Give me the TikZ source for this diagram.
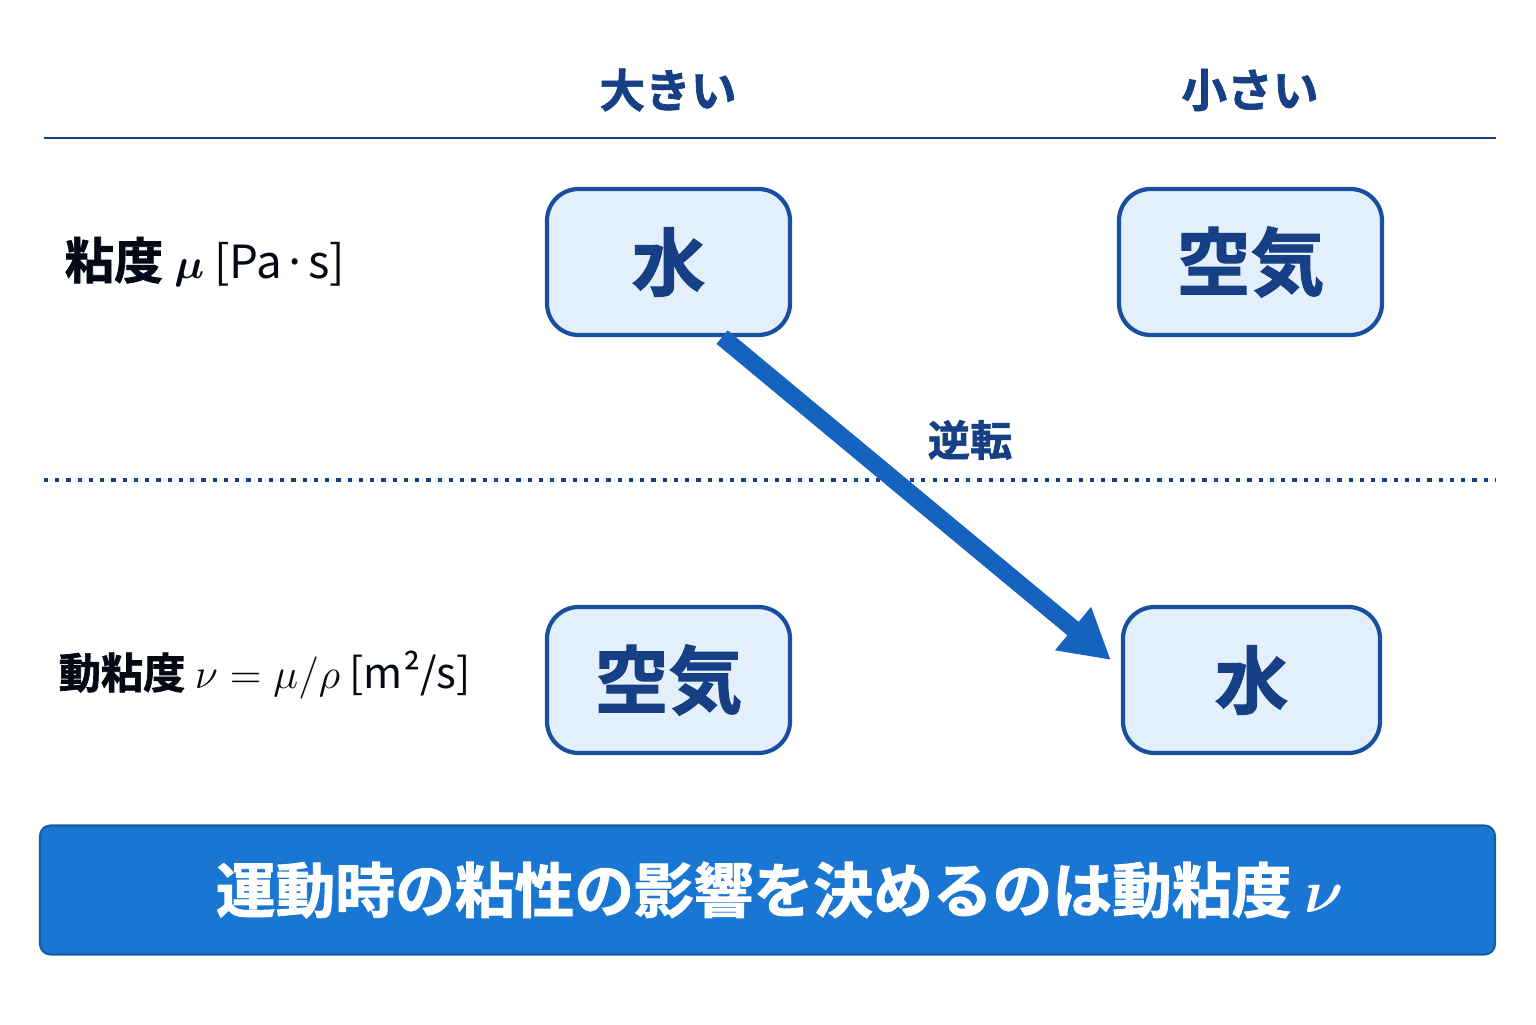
\documentclass[tikz,border=0pt]{standalone}
\usepackage{amsmath}
\usepackage{bm}
\usepackage{fontspec}
\setmainfont{Noto Sans CJK JP}
\newfontfamily\jpbold[FakeBold=1.5]{Noto Sans CJK JP Bold}
\usetikzlibrary{arrows.meta,positioning}
\definecolor{navy}{HTML}{173F85}
\definecolor{boxfill}{HTML}{E3F0FB}
\definecolor{boxline}{HTML}{1A4FA0}
\definecolor{arrowblue}{HTML}{1663BF}
\definecolor{banner}{HTML}{1976D2}
\begin{document}
\begin{tikzpicture}[
    semithick,
    head/.style = {text=navy, font=\jpbold\fontsize{13}{15}\selectfont},
    rowlabel/.style = {text=black!85!navy, anchor=west, font=\jpbold\fontsize{14}{16}\selectfont},
    fluid/.style = {draw=boxline, line width=1.2pt, fill=boxfill, rounded corners=9pt,
                    minimum width=2.43cm, minimum height=1.46cm, text=navy,
                    font=\jpbold\fontsize{21}{24}\selectfont},
    ]
    \useasboundingbox (0,0) rectangle (15.36,10.24);
    % column heads
    \node[head] (big) at (6.68,9.34) {大きい};
    \node[head] (small) at (12.50,9.34) {小さい};
    \draw[navy, thick] (0.44,8.86) -- (14.96,8.86);
    \draw[navy, line width=1.2pt, dotted] (0.44,5.44) -- (14.96,5.44);
    % row labels
    \node[rowlabel] (mu) at (0.52,7.62)
        {粘度 {\rmfamily\fontsize{13}{15}\selectfont $\bm{\mu}$ [Pa·s]}};
    \node[rowlabel, font=\jpbold\fontsize{12}{14}\selectfont] (nu) at (0.46,3.49)
        {動粘度 {\rmfamily\fontsize{12}{14}\selectfont $\nu=\mu/\rho$ [m²/s]}};
    % boxes
    \node[fluid] (w1) at (6.685,7.62) {水};
    \node[fluid, minimum width=2.63cm] (a1) at (12.505,7.62) {空気};
    \node[fluid] (a2) at (6.685,3.44) {空気};
    \node[fluid, minimum width=2.57cm] (w2) at (12.515,3.44) {水};
    % arrow
    \draw[arrowblue, line width=5pt, -{Triangle[length=14pt,width=15pt]}]
        ([xshift=-0.7cm]w1.south east) -- ([xshift=-0.1cm,yshift=0.2cm]w2.west);
    \node[text=navy, font=\jpbold\fontsize{12}{14}\selectfont] (flip) at (9.70,5.84) {逆転};
    % banner
    \node[fill=banner, draw=banner!80!black, rounded corners=3pt, minimum width=14.55cm,
          minimum height=1.29cm, text=white, font=\jpbold\fontsize{17}{20}\selectfont]
        (msg) at (7.675,1.34) {\hspace*{0.25cm}運動時の粘性の影響を決めるのは動粘度 $\bm{\nu}$};
\end{tikzpicture}
\end{document}
